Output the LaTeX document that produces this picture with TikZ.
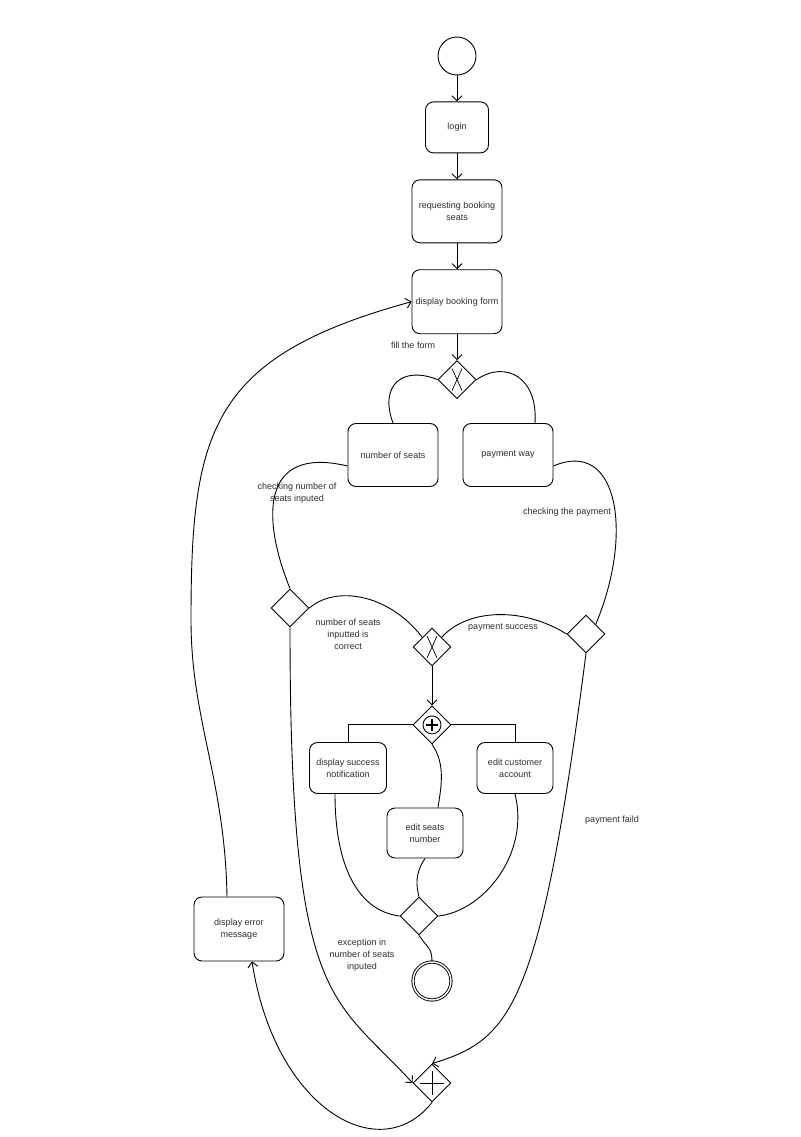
\documentclass[tikz,border=0pt]{standalone}
\usepackage{fontspec}
\setmainfont{Liberation Sans}
\usetikzlibrary{arrows.meta,positioning,shapes.geometric,calc}
\definecolor{flowtext}{RGB}{45,45,45}
\tikzset{
  act/.style={draw,line width=0.9pt,rounded corners=8pt,
              minimum width=90pt,minimum height=64pt,align=center,
              font=\fontsize{9}{12}\selectfont,text=flowtext,inner sep=2pt},
  actsm/.style={act,minimum width=77pt,minimum height=51pt},
  gate/.style={draw,line width=0.9pt,diamond,aspect=1,inner sep=0pt,
               minimum width=38pt,minimum height=38pt},
  gatex/.style={gate,path picture={
      \draw[line width=0.7pt]
        ([shift={(-5pt,11pt)}]path picture bounding box.center) --
        ([shift={(5pt,-11pt)}]path picture bounding box.center)
        ([shift={(5pt,11pt)}]path picture bounding box.center) --
        ([shift={(-5pt,-11pt)}]path picture bounding box.center);}},
  gatep/.style={gate,path picture={
      \draw[line width=0.9pt] (path picture bounding box.center) circle (9pt);
      \draw[line width=2.2pt]
        ([shift={(-6pt,0pt)}]path picture bounding box.center) --
        ([shift={(6pt,0pt)}]path picture bounding box.center)
        ([shift={(0pt,-6pt)}]path picture bounding box.center) --
        ([shift={(0pt,6pt)}]path picture bounding box.center);}},
  gatepl/.style={gate,path picture={
      \draw[line width=0.9pt]
        ([shift={(-12pt,0pt)}]path picture bounding box.center) --
        ([shift={(12pt,0pt)}]path picture bounding box.center)
        ([shift={(0pt,-12pt)}]path picture bounding box.center) --
        ([shift={(0pt,12pt)}]path picture bounding box.center);}},
  start/.style={draw,circle,line width=0.9pt,minimum size=38pt,inner sep=0pt},
  stop/.style={start,double,double distance=1.4pt},
  flow/.style={line width=0.9pt},
  arr/.style={flow,-{Straight Barb[length=5pt,width=10pt]}},
  lbl/.style={font=\fontsize{9}{12}\selectfont,text=flowtext,
              align=center,inner sep=0pt},
}
\begin{document}
\begin{tikzpicture}[x=1pt,y=-1pt]
  \useasboundingbox (0,0) rectangle (800,1137);

  \node[start] (ST) at (457,56) {};
  \node[act,minimum width=63pt,minimum height=51pt,below=26pt of ST] (LGN) {login};
  \node[act,minimum height=63pt,below=26pt of LGN] (REQ) {requesting booking\\seats};
  \node[act,below=26pt of REQ] (DBF) {display booking form};
  \node[gatex,below=26pt of DBF] (GX1) {};
  \node[act,minimum height=63pt] (NOS) at (393,455) {number of seats};
  \node[act,minimum height=63pt] (PWY) at (508,455) {payment way};
  \node[gate] (GL) at (290,608) {};
  \node[gate] (GR) at (586,634) {};
  \node[gatex] (GX2) at (432,647) {};
  \node[gatep,below=39pt of GX2] (GP) {};
  \node[actsm] (DSN) at (348,768) {display success\\notification};
  \node[actsm,minimum width=76pt] (ECA) at (515,768) {edit customer\\account};
  \node[actsm,minimum width=76pt,minimum height=50pt] (ESN) at (425,833) {edit seats\\number};
  \node[gate] (GM) at (419,916) {};
  \node[stop] (EN) at (432,981) {};
  \node[gatepl] (GB) at (432,1083) {};
  \node[act] (ERR) at (239,929) {display error\\message};

  \node[lbl] (LFF) at (413,345) {fill the form};
  \node[lbl] (LCN) at (297,493) {checking number of\\seats inputed};
  \node[lbl] (LCP) at (567,512) {checking the payment};
  \node[lbl] (LNC) at (348,634) {number of seats\\inputted is\\correct};
  \node[lbl] (LPS) at (503,628) {payment success};
  \node[lbl] (LPF) at (612,820) {payment faild};
  \node[lbl] (LEX) at (362,955) {exception in\\number of seats\\inputed};

  \draw[arr] (ST) -- (LGN);
  \draw[arr] (LGN) -- (REQ);
  \draw[arr] (REQ) -- (DBF);
  \draw[arr] (DBF) -- (GX1);
  \draw[flow] (GX1.west) .. controls +(-35,-14) and +(-14,-38) .. (NOS.north);
  \draw[flow] (GX1.east) .. controls +(30,-20) and +(3,-45) .. ($(PWY.north)+(27,0)$);
  \draw[flow] ($(NOS.west)+(0,11)$) .. controls +(-88,-21) and +(-28,-69) .. (GL.north);
  \draw[flow] ($(PWY.east)+(0,11)$) .. controls +(65,-28) and +(38,-90) .. (GR.north east);
  \draw[flow] (GL.east) .. controls +(25,-22) and +(-35,-45) .. (GX2.north west);
  \draw[flow] (GR.west) .. controls +(-45,-28) and +(25,-28) .. (GX2.north east);
  \draw[arr] (GX2) -- (GP);
  \draw[flow] (GP.west) -| (DSN.north);
  \draw[flow] (GP.east) -| (ECA.north);
  \draw[flow] (GP.south) .. controls +(14,20) and +(3,-20) .. ($(ESN.north)+(13,0)$);
  \draw[flow] ($(DSN.south)+(-13,0)$) .. controls +(0,75) and +(-40,-5) .. (GM.west);
  \draw[flow] (ESN.south) .. controls +(-10,15) and +(-3,-12) .. (GM.north);
  \draw[flow] (ECA.south) .. controls +(15,60) and +(45,-5) .. (GM.east);
  \draw[flow] (GM.south) .. controls +(8,12) and +(0,-14) .. (EN.north);
  \draw[arr] (GL.south) .. controls +(0,380) and +(-80,-88) .. (GB.west);
  \draw[arr] (GR.south) .. controls +(-46,357) and +(78,-24) .. (GB.north);
  \draw[arr] (GB.south) .. controls +(-52,66) and +(23,148) .. ($(ERR.south)+(13,0)$);
  \draw[arr] ($(ERR.north)+(-12,0)$) .. controls +(-2,-117) and +(0,100) .. (191,620)
             .. controls +(0,-190) and +(-201,55) .. (DBF.west);
\end{tikzpicture}
\end{document}
